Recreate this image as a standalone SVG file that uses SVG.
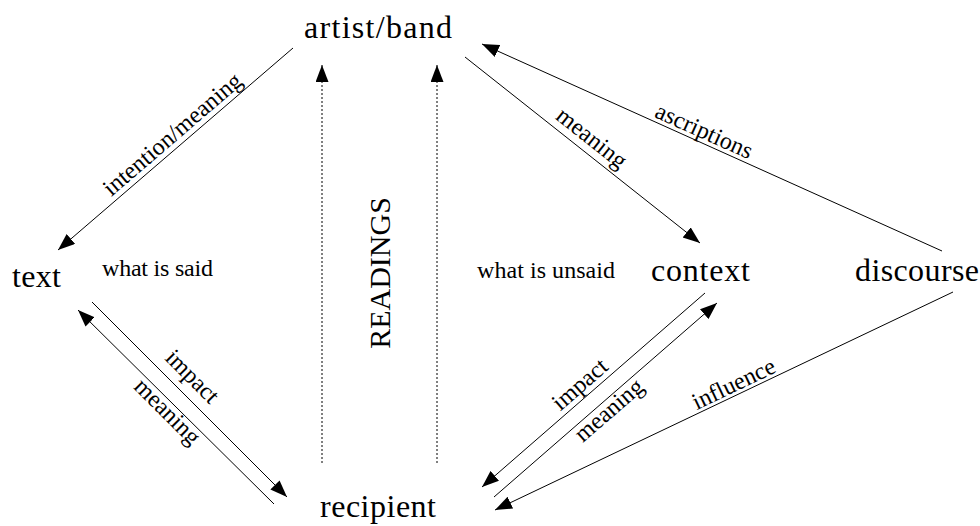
<svg xmlns="http://www.w3.org/2000/svg" width="980" height="526" viewBox="0 0 980 526">
<style>
text{font-family:'Liberation Serif','DejaVu Serif','Times New Roman',serif;fill:#000}
.node{font-size:32px}
.lbl{font-size:24px}
.vert{font-size:30px}
.c{stroke:#000;stroke-width:1;fill:none;marker-end:url(#ah)}
.d{stroke-dasharray:2,2}
</style>
<defs>
<marker id="ah" markerUnits="userSpaceOnUse" markerWidth="18" markerHeight="14" refX="17" refY="6.5" orient="auto">
<path d="M0,0 L17,6.5 L0,13 z" fill="#000"/>
</marker>
</defs>
<rect width="980" height="526" fill="#fff"/>
<g id="connectors">
<line class="c" x1="293" y1="48" x2="58" y2="250"/>
<line class="c d" x1="322" y1="463" x2="322" y2="65"/>
<line class="c d" x1="437" y1="463" x2="437" y2="65"/>
<line class="c" x1="465" y1="57" x2="700" y2="243"/>
<line class="c" x1="942" y1="251" x2="482" y2="44"/>
<line class="c" x1="92" y1="302" x2="287" y2="497"/>
<line class="c" x1="274" y1="504" x2="78" y2="310"/>
<line class="c" x1="705" y1="293" x2="482" y2="487"/>
<line class="c" x1="494" y1="497" x2="717" y2="303"/>
<line class="c" x1="953" y1="292" x2="495" y2="510"/>
<text class="lbl" text-anchor="middle" transform="translate(177.5,140) rotate(-40.7)">intention/meaning</text>
<text class="lbl" text-anchor="middle" transform="translate(587,144) rotate(38.4)">meaning</text>
<text class="lbl" text-anchor="middle" transform="translate(701,138) rotate(24.2)">ascriptions</text>
<text class="lbl" text-anchor="middle" transform="translate(187,382) rotate(45)">impact</text>
<text class="lbl" text-anchor="middle" transform="translate(162,417) rotate(45)">meaning</text>
<text class="lbl" text-anchor="middle" transform="translate(585,390) rotate(-41)">impact</text>
<text class="lbl" text-anchor="middle" transform="translate(614,416) rotate(-41)">meaning</text>
<text class="lbl" text-anchor="middle" transform="translate(737,391) rotate(-25.5)">influence</text>
</g>
<g id="artist"><text class="node" x="304" y="38" textLength="148">artist/band</text></g>
<g id="text"><text class="node" x="12" y="287" textLength="49">text</text></g>
<g id="recipient"><text class="node" x="320" y="517" textLength="116">recipient</text></g>
<g id="context"><text class="node" x="651" y="281" textLength="99">context</text></g>
<g id="discourse"><text class="node" x="855" y="281" textLength="124">discourse</text></g>
<g id="said"><text class="lbl" x="102" y="276" textLength="111">what is said</text></g>
<g id="unsaid"><text class="lbl" x="477" y="278" textLength="138">what is unsaid</text></g>
<g id="readings"><text class="vert" text-anchor="middle" transform="translate(390,273) rotate(-90)">READINGS</text></g>
</svg>
